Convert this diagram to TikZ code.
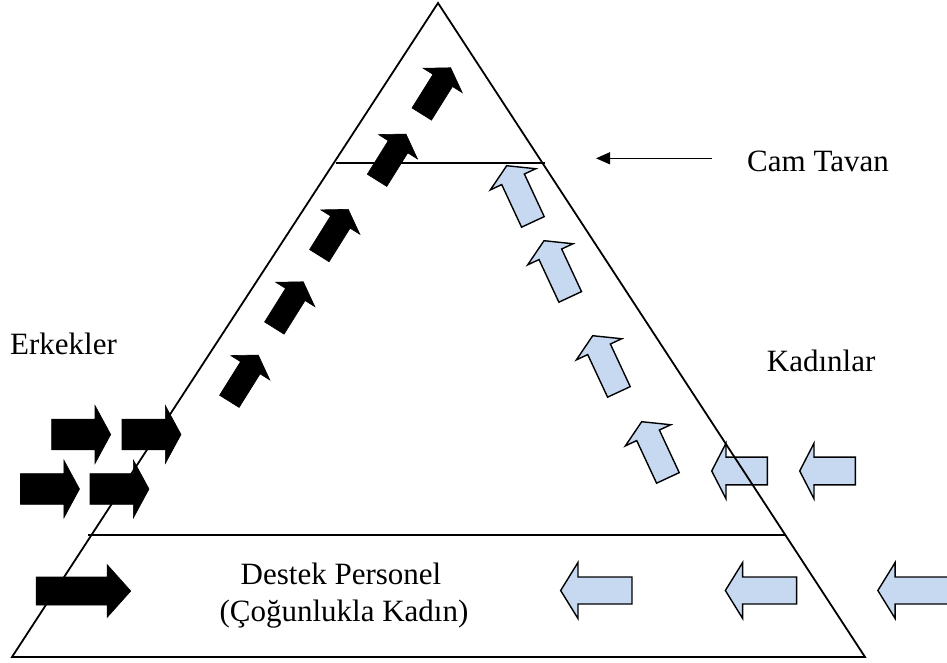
\documentclass[tikz,border=0pt]{standalone}
\usepackage{fontspec}
\setmainfont{Liberation Serif}
\usetikzlibrary{arrows.meta}
\definecolor{lightblue}{RGB}{198,217,241}
% #1 style, #2 cx, #3 cy, #4 direction angle, #5 length, #6 head length, #7 shaft width, #8 head width
\newcommand{\blockarr}[8]{%
  \path[#1, shift={(#2,#3)}, rotate=#4]
    ({-#5/2}, {-#7/2}) -- ({#5/2-#6}, {-#7/2}) -- ({#5/2-#6}, {-#8/2}) --
    ({#5/2}, 0) -- ({#5/2-#6}, {#8/2}) -- ({#5/2-#6}, {#7/2}) --
    ({-#5/2}, {#7/2}) -- cycle;}
\begin{document}
\begin{tikzpicture}[x=1pt,y=-1pt,
  edge/.style={line width=1.8pt},
  level/.style={line width=1.3pt},
  blackarr/.style={fill=black, draw=black, line width=0.6pt, line join=miter},
  bluearr/.style={fill=lightblue, draw=black, line width=1.4pt, line join=miter},
  lbl/.style={font=\fontsize{31}{37.5}\selectfont, inner sep=0pt}]
\useasboundingbox (0,0) rectangle (947,663);
\clip (0,0) rectangle (947,663);

% black horizontal arrows (men)
\blockarr{blackarr}{81.2}{434.5}{0}{59}{15.7}{30.7}{58}
\blockarr{blackarr}{151.5}{434.5}{0}{59}{15.7}{30.7}{58}
\blockarr{blackarr}{50}{489}{0}{59}{15.7}{30.7}{58}
\blockarr{blackarr}{119.5}{489}{0}{59}{15.7}{30.7}{58}
\blockarr{blackarr}{83.4}{591}{0}{94.7}{23.7}{28}{53}
% black rising arrows
\blockarr{blackarr}{436.2}{90.9}{58}{54.6}{15}{23}{46}
\blockarr{blackarr}{391.5}{157.2}{58}{54.6}{15}{23}{46}
\blockarr{blackarr}{333.8}{232.5}{58}{54.6}{15}{23}{46}
\blockarr{blackarr}{288.8}{304.9}{58}{54.6}{15}{23}{46}
\blockarr{blackarr}{243.8}{378.2}{58}{54.6}{15}{23}{46}

% blue horizontal arrows (women)
\blockarr{bluearr}{596.3}{590.5}{180}{71.3}{17.3}{27}{56}
\blockarr{bluearr}{761}{590.5}{180}{71.3}{17.3}{27}{56}
\blockarr{bluearr}{913.5}{590.5}{180}{71.3}{17.3}{27}{56}
\blockarr{bluearr}{739.5}{471}{180}{55.6}{14.3}{27.7}{55.6}
\blockarr{bluearr}{827.5}{471}{180}{55.6}{14.3}{27.7}{55.6}
% blue rising arrows
\blockarr{bluearr}{519.8}{193.8}{115}{62}{15}{25}{50}
\blockarr{bluearr}{557.1}{268.8}{115}{62}{15}{25}{50}
\blockarr{bluearr}{605.8}{363.8}{115}{62}{15}{25}{50}
\blockarr{bluearr}{654.8}{449.8}{115}{62}{15}{25}{50}

% pyramid
\coordinate (apex) at (438,3);
\coordinate (bl) at (12,657);
\coordinate (br) at (865,657);
\draw[edge, line join=miter] (apex) -- (bl) -- (br) -- cycle;
\coordinate (c1) at (336,163);
\coordinate (c2) at (545,163);
\draw[level] (c1) -- (c2);
\coordinate (s1) at (88,535);
\coordinate (s2) at (785,535);
\draw[level] (s1) -- (s2);

% labels
\node[lbl, anchor=base west] (cam) at (747,171.7) {Cam Tavan};
\coordinate (camstart) at (711.7,158.3);
\coordinate (camend) at (596,158.3);
\draw[level, -{Triangle[length=14pt,width=12pt]}] (camstart) -- (camend);
\node[lbl, anchor=base west] (erk) at (10,354) {Erkekler};
\node[lbl, anchor=base west] (kad) at (766.7,371.7) {Kadınlar};
\node[lbl, anchor=base] (d1) at (341,584) {Destek Personel};
\node[lbl, anchor=base] (d2) at (344,621.7) {(Çoğunlukla Kadın)};
\end{tikzpicture}
\end{document}
